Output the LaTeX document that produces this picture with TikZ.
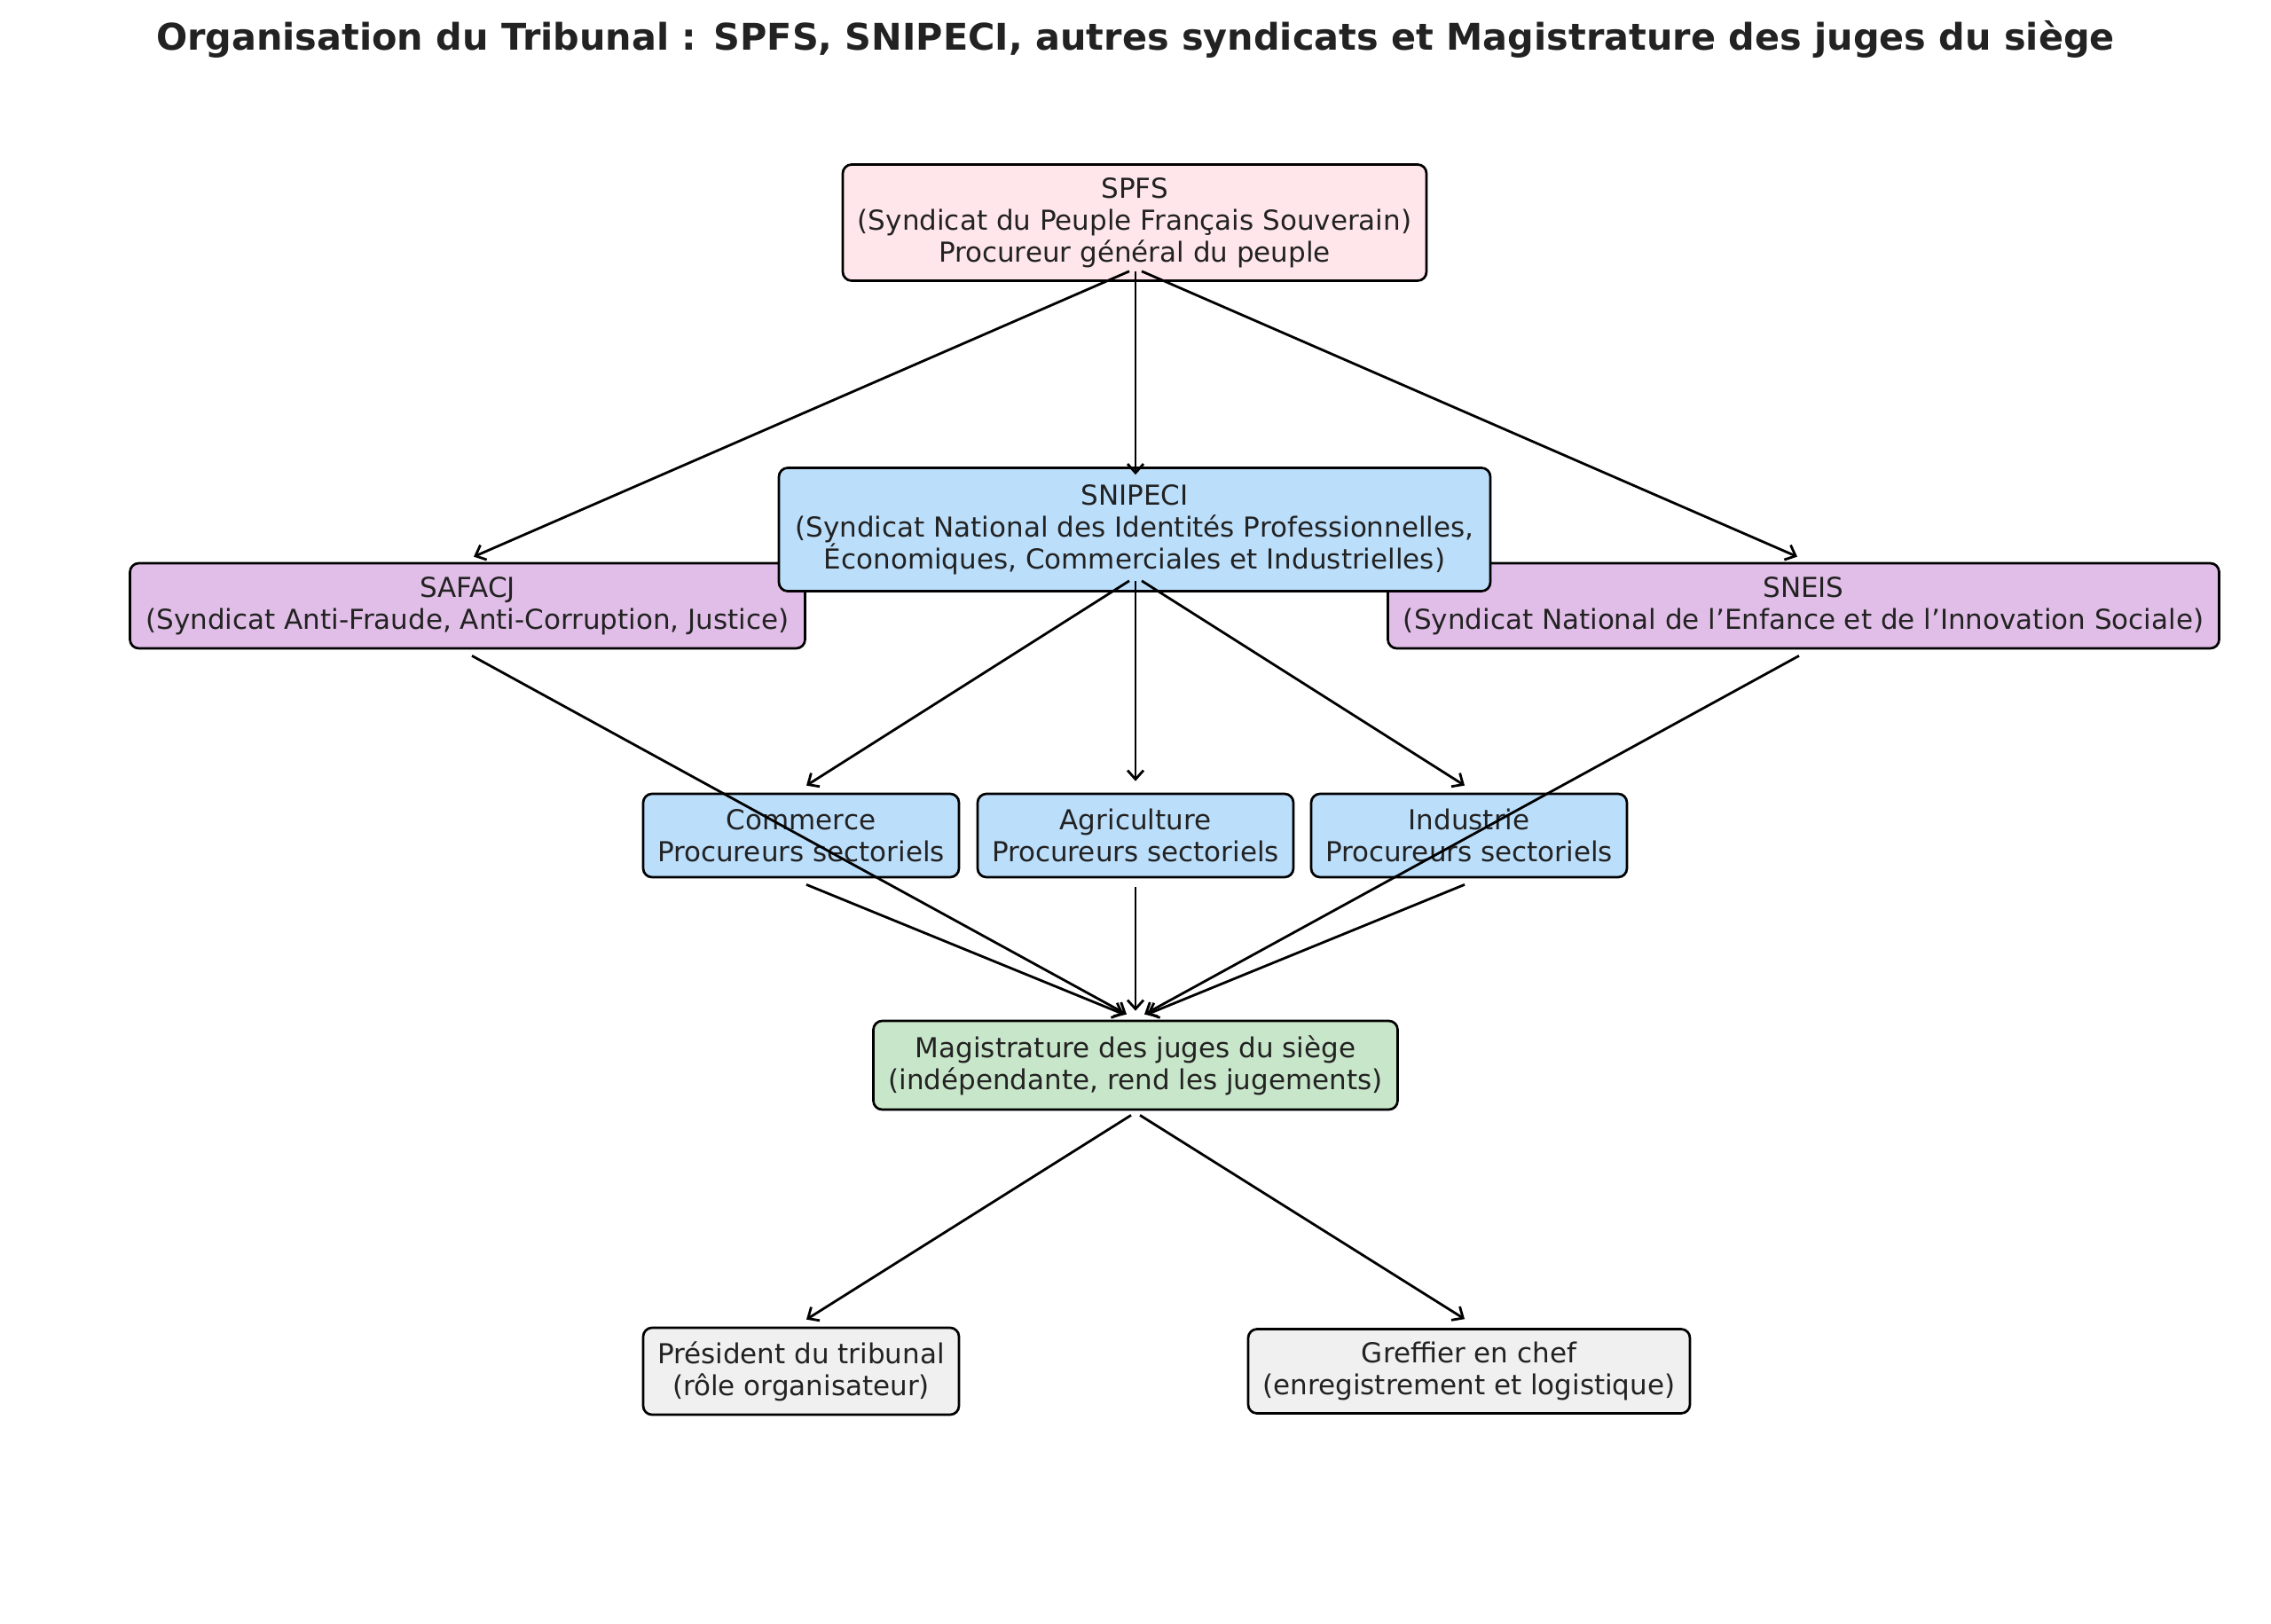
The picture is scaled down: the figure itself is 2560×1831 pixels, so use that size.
\documentclass[tikz,border=0pt]{standalone}
\usepackage{fontspec}
\setmainfont{DejaVu Sans}
\usepackage{tikz}
\usetikzlibrary{arrows.meta,positioning}

\definecolor{pinkfill}{HTML}{FFE6EA}
\definecolor{bluefill}{HTML}{BBDEFB}
\definecolor{purplefill}{HTML}{E1BEE7}
\definecolor{greenfill}{HTML}{C8E6C9}
\definecolor{greyfill}{HTML}{F0F0F0}
\definecolor{textdark}{HTML}{222222}

\begin{document}
\begin{tikzpicture}[
  x=0.5pt,
  y=-0.5pt,
  box/.style={
    rectangle,
    rounded corners=5pt,
    draw=black,
    line width=1.35pt,
    text=textdark,
    inner xsep=4pt,
    inner ysep=2pt,
    font=\fontsize{15.5pt}{18pt}\selectfont,
    align=center
  },
  arrow/.style={
    -{Straight Barb[length=5pt,width=9pt,line width=1.4pt]},
    line width=1.4pt,
    draw=black
  }
]
\useasboundingbox (0,0) rectangle (2560,1831);

% Title
\node[font=\fontsize{20.7pt}{24pt}\selectfont\bfseries, text=textdark] (title) at (1280,44)
  {Organisation du Tribunal : SPFS, SNIPECI, autres syndicats et Magistrature des juges du siège};

% SPFS
\node[box, fill=pinkfill, minimum width=329pt, minimum height=65.5pt] (spfs) at (1279,251)
  {SPFS\\(Syndicat du Peuple Français Souverain)\\Procureur général du peuple};

% SAFACJ and SNEIS
\node[box, fill=purplefill, minimum width=380.5pt, minimum height=48pt] (safacj) at (527,683)
  {SAFACJ\\(Syndicat Anti-Fraude, Anti-Corruption, Justice)};
\node[box, fill=purplefill, minimum width=468.5pt, minimum height=48pt] (sneis) at (2033,683)
  {SNEIS\\(Syndicat National de l’Enfance et de l’Innovation Sociale)};

% SNIPECI
\node[box, fill=bluefill, minimum width=401pt, minimum height=69.5pt] (snipeci) at (1279,597)
  {SNIPECI\\(Syndicat National des Identités Professionnelles,\\Économiques, Commerciales et Industrielles)};

% Sectoral prosecutors
\node[box, fill=bluefill, minimum width=178pt, minimum height=47pt] (commerce) at (903,942)
  {Commerce\\Procureurs sectoriels};
\node[box, fill=bluefill, minimum width=178pt, minimum height=47pt] (agri) at (1280,942)
  {Agriculture\\Procureurs sectoriels};
\node[box, fill=bluefill, minimum width=178pt, minimum height=47pt] (industrie) at (1656,942)
  {Industrie\\Procureurs sectoriels};

% Magistrature
\node[box, fill=greenfill, minimum width=295.5pt, minimum height=50pt] (mag) at (1280,1201)
  {Magistrature des juges du siège\\(indépendante, rend les jugements)};

% President and clerk
\node[box, fill=greyfill, minimum width=178pt, minimum height=49pt] (president) at (903,1546)
  {Président du tribunal\\(rôle organisateur)};
\node[box, fill=greyfill, minimum width=249pt, minimum height=47.5pt] (greffier) at (1656,1546)
  {Greffier en chef\\(enregistrement et logistique)};

% Arrows from SPFS
\draw[arrow] ([shift={(-6,-12)}]spfs.south) -- ([shift={(7,-6)}]safacj.north);
\draw[arrow] ([shift={(1,-12)}]spfs.south) -- ([shift={(1,9)}]snipeci.north);
\draw[arrow] ([shift={(8,-12)}]spfs.south) -- ([shift={(-7,-6)}]sneis.north);

% Arrows from SNIPECI
\draw[arrow] ([shift={(-6,-13)}]snipeci.south) -- ([shift={(6,-8)}]commerce.north);
\draw[arrow] ([shift={(1,-13)}]snipeci.south) -- ([shift={(0,-13)}]agri.north);
\draw[arrow] ([shift={(8,-13)}]snipeci.south) -- ([shift={(-5,-8)}]industrie.north);

% Arrows to Magistrature
\draw[arrow] ([shift={(5,7)}]safacj.south) -- ([shift={(-10,-6)}]mag.north);
\draw[arrow] ([shift={(-5,7)}]sneis.south) -- ([shift={(10,-6)}]mag.north);
\draw[arrow] ([shift={(6,7)}]commerce.south) -- ([shift={(-13,-6)}]mag.north);
\draw[arrow] ([shift={(0,10)}]agri.south) -- ([shift={(0,-10)}]mag.north);
\draw[arrow] ([shift={(-5,7)}]industrie.south) -- ([shift={(13,-6)}]mag.north);

% Arrows from Magistrature
\draw[arrow] ([shift={(-5,5)}]mag.south) -- ([shift={(6,-8)}]president.north);
\draw[arrow] ([shift={(5,5)}]mag.south) -- ([shift={(-5,-10)}]greffier.north);

\end{tikzpicture}
\end{document}
